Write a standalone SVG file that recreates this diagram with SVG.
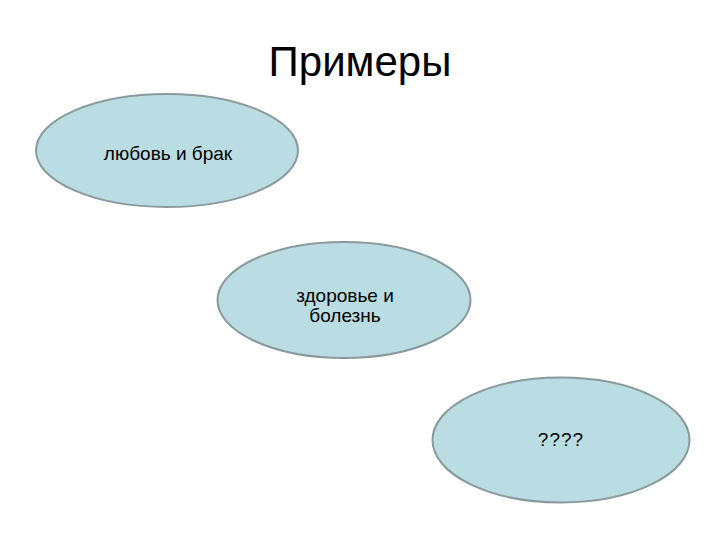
<svg xmlns="http://www.w3.org/2000/svg" width="720" height="540" viewBox="0 0 720 540">
<style>
.n{fill:#b9dde2;stroke:#8a9a9c;stroke-width:2}
.t{font-family:"Liberation Sans",Arial,sans-serif;fill:#000;text-anchor:middle}
.s{font-size:19px}
</style>
<rect width="720" height="540" fill="#fff"/>
<text class="t" x="360" y="76" font-size="42">Примеры</text>
<g id="connectors"/>
<g id="node1">
<ellipse class="n" cx="167" cy="150.5" rx="131" ry="56.5"/>
<text class="t s" x="168" y="160">любовь и брак</text>
</g>
<g id="node2">
<ellipse class="n" cx="344" cy="300" rx="126.5" ry="58"/>
<text class="t s" x="345" y="302">здоровье и</text>
<text class="t s" x="345" y="322">болезнь</text>
</g>
<g id="node3">
<ellipse class="n" cx="561" cy="440" rx="128.5" ry="62.5"/>
<text class="t s" x="561" y="446" letter-spacing="1">????</text>
</g>
</svg>
